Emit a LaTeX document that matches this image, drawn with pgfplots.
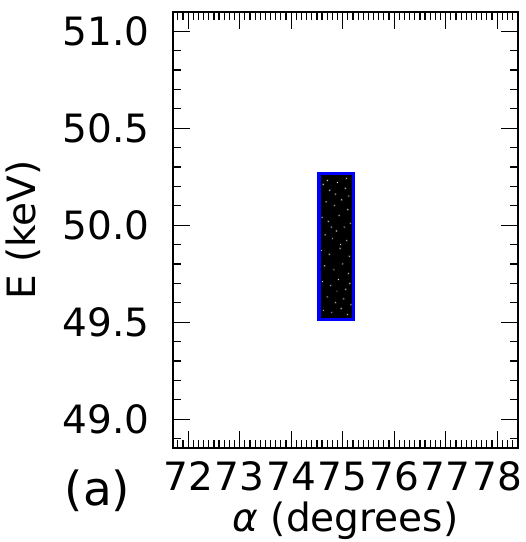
\documentclass[border=0pt]{standalone}
\usepackage{pgfplots}
\pgfplotsset{compat=1.18}
\usepackage{fontspec}
\setmainfont{DejaVu Sans}
\newcommand\fs{\fontsize{39}{47}\selectfont}
\begin{document}
\begin{tikzpicture}
\begin{axis}[
  width=345.6pt, height=436.6pt, scale only axis,
  xmin=71.70, xmax=78.41, ymin=48.85, ymax=51.10,
  xtick={72,73,74,75,76,77,78},
  ytick={49.0,49.5,50.0,50.5,51.0},
  minor xtick={71.8,71.9,...,78.4},
  minor ytick={48.9,49.0,...,51.1},
  yticklabel style={/pgf/number format/fixed, /pgf/number format/fixed zerofill, /pgf/number format/precision=1, xshift=-22.7pt},
  /pgf/number format/assume math mode=true,
  tick label style={font=\fs, inner sep=0pt},
  xticklabel style={yshift=-13.4pt},
  label style={font=\fs},
  tick align=inside,
  xtick pos=both, ytick pos=both,
  major tick length=17pt, minor tick length=8.5pt,
  tick style={black, line width=1.2pt},
  axis line style={line width=1.7pt},
  xlabel={\textit{α} (degrees)},
  ylabel={E (keV)},
  xlabel style={at={(axis description cs:0.5,-0.1654)}, anchor=center},
  ylabel style={at={(axis description cs:-0.433,0.5)}, anchor=center},
]
\addplot[draw=none, fill=black] coordinates {(74.54,49.515) (75.21,49.515) (75.21,50.266) (74.54,50.266)} -- cycle;
\addplot[only marks, mark=*, mark size=1.1pt, mark options={fill=white, draw=none}] coordinates {
(74.62,50.21) (74.75,50.18) (74.90,50.22) (75.05,50.19) (75.12,50.15) (74.68,50.12) (74.84,50.10) (74.98,50.13) (75.10,50.08) (74.60,50.04) (74.72,50.02) (74.93,50.05) (75.03,49.99) (75.15,50.01) (74.66,49.95) (74.80,49.93) (74.88,49.97) (75.08,49.92) (74.59,49.87) (74.74,49.85) (74.95,49.88) (75.13,49.84) (74.65,49.79) (74.83,49.77) (75.00,49.80) (75.11,49.75) (74.61,49.71) (74.77,49.69) (74.92,49.72) (75.06,49.67) (74.70,49.63) (74.86,49.60) (75.02,49.62) (75.16,49.59) (74.63,49.56) (74.79,49.55) (74.97,49.57) (75.09,49.54) (74.86,50.16) (75.07,50.24) (74.70,50.23) (74.96,49.90) (74.78,49.99) (75.14,49.70) (74.89,49.66)
};
\addplot[blue, line width=3.3pt, line join=miter] coordinates {(74.54,49.515) (75.21,49.515) (75.21,50.266) (74.54,50.266)} -- cycle;
\coordinate (sw) at (rel axis cs:0,0);
\coordinate (ne) at (rel axis cs:1,1);
\end{axis}
\node[font=\fontsize{47}{56}\selectfont, inner sep=0pt] at ([shift={(-75.2pt,-42.2pt)}]sw) {(a)};
\pgfresetboundingbox
\path ([shift={(-172.7pt,-93.7pt)}]sw) rectangle ([shift={(7.7pt,11.7pt)}]ne);
\end{tikzpicture}
\end{document}
